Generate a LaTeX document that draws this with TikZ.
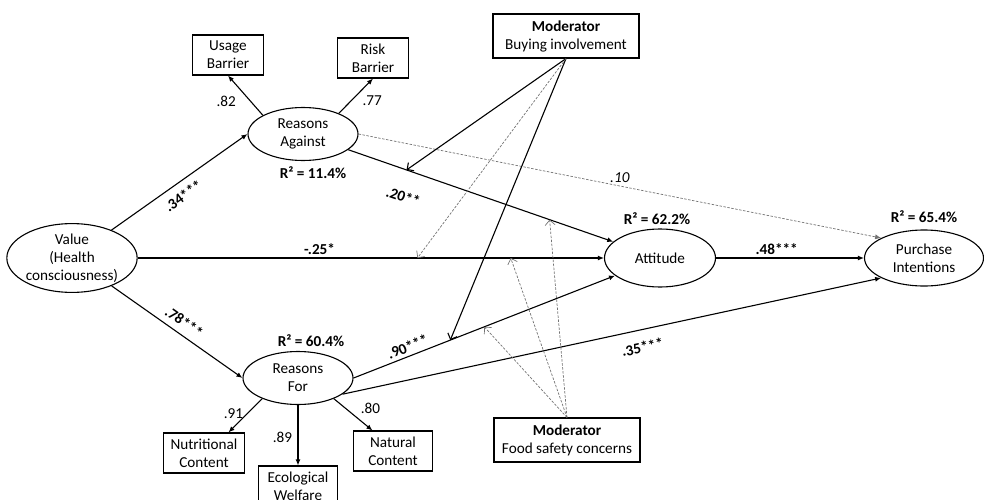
\documentclass[tikz,border=0pt]{standalone}
\usepackage{fontspec}
\setmainfont{Carlito}
\usetikzlibrary{shapes.geometric, arrows.meta, positioning}

\begin{document}
\begin{tikzpicture}[x=1pt, y=-1pt, line width=1.1pt, >={Latex[length=6pt,width=5pt]},
    font=\fontsize{15.2}{18}\selectfont,
    L node/.style={ellipse, draw, align=center, inner sep=0pt, minimum width=110pt, minimum height=53pt},
    M node/.style={rectangle, draw, align=center, inner sep=2pt, minimum width=#1, minimum height=40pt},
    M node/.default=80pt,
    Mod node/.style={rectangle, draw, align=center, minimum width=146pt, minimum height=44pt},
    Mod edge/.style={-{Straight Barb[length=5pt,width=10pt]}},
    Dash edge/.style={black!55, line width=0.7pt, dash pattern=on 2.5pt off 1.5pt},
    coef/.style={font=\fontsize{15.2}{18}\selectfont\bfseries}]
    \useasboundingbox (0,0) rectangle (984,500);

    % constructs
    \node[L node, minimum width=120pt, minimum height=68pt] (V) at (72,258) {Value\\(Health\\consciousness)};
    \node[L node] (RA) at (303,134) {Reasons\\Against};
    \node[L node] (RF) at (298,378) {Reasons\\For};
    \node[L node, minimum width=111pt, minimum height=58pt] (Att) at (660,258) {Attitude};
    \node[L node, minimum width=119pt, minimum height=56pt] (PI) at (924,258) {Purchase\\Intentions};

    % indicators
    \node[M node=71pt] (UB) at (228,55) {Usage\\Barrier};
    \node[M node=71pt] (RB) at (373,58) {Risk\\Barrier};
    \node[M node=81pt] (NC) at (204,453) {Nutritional\\Content};
    \node[M node=79pt] (EW) at (298,486) {Ecological\\Welfare};
    \node[M node=79pt] (NatC) at (393,451) {Natural\\Content};

    % moderators
    \node[Mod node] (BI) at (566,36) {\textbf{Moderator}\\Buying involvement};
    \node[Mod node] (FS) at (567,440) {\textbf{Moderator}\\Food safety concerns};

    % explained variance
    \node[coef, below=2pt of RA, xshift=10pt] (R2RA) {R² = 11.4\%};
    \node[coef, above=0pt of RF, xshift=13pt] (R2RF) {R² = 60.4\%};
    \node[coef, above=0pt of Att, xshift=-3pt] (R2Att) {R² = 62.2\%};
    \node[coef, above=3pt of PI] (R2PI) {R² = 65.4\%};

    \path
    (RA.155) edge[->] node[pos=0.35, left=11pt] {.82} (UB.south)
    (RA.30) edge[->] node[pos=0.35, right=8pt] {.77} (RB.south)
    (RF.210) edge[->] node[pos=0.45, left] {.91} (NC.40)
    (RF) edge[->] node[pos=0.54, left=2pt] {.89} (EW)
    (RF.330) edge[->] node[pos=0.6, above right] {.80} (NatC.135)
    (V) edge[->] node[coef, pos=0.47, sloped, below=4pt] {.34***} (RA.west)
    (V) edge[->] node[coef, pos=0.5, sloped, above=3pt] {.78***} (RF.west)
    (Att) edge[->] node[coef, pos=0.41, above] {.48***} (PI)
    (RF.-20) edge[->] node[coef, pos=0.55, sloped, below=8pt] {.35***} (PI.205)
    ;

    \draw[->] (V) -- coordinate[pos=0.6] (va) coordinate[pos=0.8] (vb)
        node[coef, pos=0.39, above] {-.25*} (Att);
    \draw[->] (RA) -- coordinate[pos=0.22] (raa) coordinate[pos=0.76] (rab)
        node[coef, pos=0.24, sloped, below=17pt] {.20**} (Att);
    \draw[->] (RF.east) -- coordinate[pos=0.37] (rfa) coordinate[pos=0.5] (rfb)
        node[coef, pos=0.22, sloped, above] {.90***} (Att);
    \draw[Dash edge, ->] (RA.east) -- node[pos=0.5, above, black] {\itshape .10} (PI.155);

    \draw[Mod edge] (BI.south) -- (raa);
    \draw[Mod edge] (BI.south) -- (rfa);
    \draw[Dash edge, Mod edge] (BI.south) -- (va);
    \draw[Dash edge, Mod edge] (FS.north) -- (rab);
    \draw[Dash edge, Mod edge] (FS.north) -- (vb);
    \draw[Dash edge, Mod edge] (FS.north) -- (rfb);
\end{tikzpicture}
\end{document}
